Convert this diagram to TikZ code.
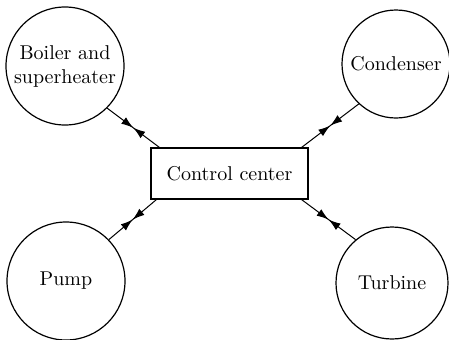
\documentclass[tikz,border=0pt]{standalone}
\usepackage{tikz}
\usetikzlibrary{arrows.meta}
\usetikzlibrary{decorations.markings}

\begin{document}
\begin{tikzpicture}[
    x=0.5pt, y=-0.5pt,
    unit/.style={circle, draw, semithick, inner sep=0pt, minimum size=59pt, align=center},
    ctrlbox/.style={rectangle, draw, semithick, minimum width=78.5pt, minimum height=25.5pt},
    link/.style={line width=0.5pt, postaction={decorate}, decoration={markings,
        mark=at position 0.5 with {\arrow{Latex[length=6pt,width=4pt]}},
        mark=at position 0.5 with {\arrowreversed{Latex[length=6pt,width=4pt]}}}}
]
    \useasboundingbox (0,0) rectangle (449,339);

    % Units round the centre
    \node[unit] (boiler) at (65,66) {Boiler and\\superheater};
    \node[unit, minimum size=54pt] (condenser) at (396,64) {Condenser};
    \node[unit] (pump) at (66,281) {Pump};
    \node[unit, minimum size=56pt] (turbine) at (392,283) {Turbine};

    % Centre
    \node[ctrlbox] (ctrl) at (229.5,173.5) {Control center};

    % Links
    \draw[link] (boiler.-45) -- ([xshift=4.5pt]ctrl.north west);
    \draw[link] (condenser.-133) -- ([xshift=-3.5pt]ctrl.north east);
    \draw[link] (pump.44) -- ([xshift=3pt]ctrl.south west);
    \draw[link] (turbine.130) -- ([xshift=-3.5pt]ctrl.south east);
\end{tikzpicture}
\end{document}
